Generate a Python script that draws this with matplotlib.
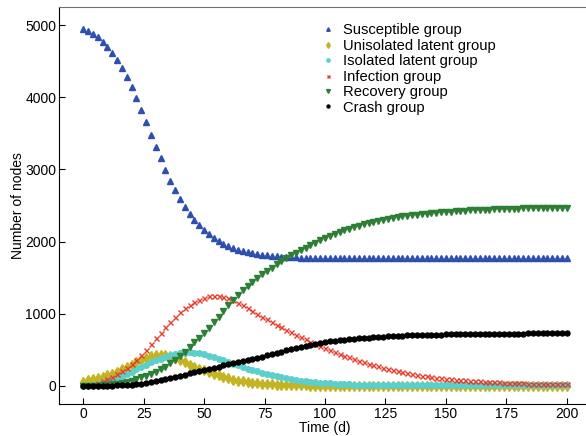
import numpy as np
import matplotlib
matplotlib.use("Agg")
import matplotlib.pyplot as plt

plt.rcParams['font.family'] = ['Liberation Sans', 'DejaVu Sans']

# time in days, one sample every 2 days
days = list(range(0, 201, 2))

susceptible = [
    4950, 4920, 4882, 4832, 4772, 4702, 4619, 4519, 4409, 4280,
    4138, 3987, 3826, 3657, 3483, 3313, 3153, 2990, 2846, 2708,
    2585, 2479, 2383, 2296, 2223, 2156, 2101, 2053, 2010, 1970,
    1938, 1910, 1887, 1868, 1852, 1838, 1827, 1817, 1809, 1802,
    1796, 1791, 1787, 1784, 1781, 1779, 1777, 1775, 1774, 1773,
    1772, 1772, 1772, 1772, 1772, 1772, 1771, 1771, 1771, 1771,
    1771, 1771, 1771, 1771, 1771, 1771, 1771, 1771, 1771, 1771,
    1771, 1771, 1771, 1771, 1771, 1771, 1771, 1771, 1771, 1771,
    1771, 1771, 1771, 1771, 1771, 1771, 1771, 1771, 1771, 1771,
    1771, 1771, 1771, 1771, 1771, 1771, 1771, 1771, 1771, 1771,
    1771,
]
unisolated_latent = [
    58, 76, 92, 107, 125, 147, 170, 197, 228, 261,
    296, 334, 366, 394, 414, 426, 430, 426, 413, 392,
    362, 330, 297, 266, 240, 215, 190, 166, 145, 124,
    106, 89, 75, 62, 52, 43, 36, 30, 25, 21,
    18, 15, 13, 11, 9, 8, 7, 6, 5, 4,
    4, 3, 3, 3, 3, 2, 2, 2, 2, 2,
    2, 2, 2, 2, 2, 2, 2, 2, 1, 1,
    1, 1, 1, 1, 1, 1, 1, 1, 1, 1,
    1, 1, 1, 1, 1, 1, 1, 1, 1, 1,
    1, 1, 1, 1, 1, 1, 1, 1, 1, 1,
    1,
]
isolated_latent = [
    2, 9, 18, 28, 45, 64, 87, 111, 140, 169,
    198, 229, 261, 293, 325, 355, 380, 403, 425, 443,
    456, 463, 464, 460, 452, 438, 420, 398, 377, 354,
    331, 308, 285, 262, 240, 220, 201, 183, 166, 150,
    135, 121, 108, 96, 85, 75, 66, 58, 51, 45,
    40, 35, 31, 28, 25, 22, 20, 18, 17, 16,
    15, 14, 13, 13, 12, 12, 12, 11, 11, 11,
    11, 11, 10, 10, 10, 10, 10, 10, 10, 10,
    10, 10, 10, 10, 10, 10, 10, 10, 10, 10,
    10, 10, 10, 10, 10, 10, 10, 10, 10, 10,
    10,
]
infection = [
    10, 18, 30, 45, 64, 90, 125, 165, 210, 255,
    300, 362, 425, 497, 575, 658, 740, 815, 892, 960,
    1025, 1080, 1127, 1168, 1196, 1222, 1242, 1250, 1248, 1237,
    1215, 1184, 1152, 1116, 1079, 1040, 1002, 962, 922, 882,
    845, 810, 776, 742, 708, 676, 645, 614, 585, 556,
    528, 500, 472, 446, 420, 396, 372, 349, 328, 307,
    288, 270, 252, 236, 220, 205, 191, 178, 166, 155,
    144, 134, 125, 116, 108, 100, 93, 87, 81, 76,
    71, 66, 62, 58, 54, 51, 48, 45, 42, 40,
    37, 35, 33, 31, 30, 28, 27, 25, 24, 23,
    22,
]
recovery = [
    0, 1, 3, 6, 10, 15, 22, 30, 42, 56,
    74, 96, 119, 140, 166, 194, 228, 266, 312, 365,
    420, 477, 540, 604, 664, 733, 808, 885, 960, 1040,
    1115, 1190, 1258, 1325, 1388, 1443, 1495, 1548, 1595, 1640,
    1690, 1733, 1773, 1812, 1848, 1883, 1918, 1952, 1985, 2017,
    2047, 2076, 2104, 2130, 2155, 2178, 2200, 2220, 2239, 2257,
    2274, 2289, 2303, 2316, 2328, 2339, 2349, 2358, 2367, 2375,
    2382, 2389, 2395, 2401, 2406, 2411, 2416, 2420, 2424, 2428,
    2432, 2435, 2438, 2441, 2444, 2447, 2449, 2451, 2453, 2455,
    2457, 2459, 2461, 2462, 2464, 2465, 2467, 2468, 2469, 2470,
    2471,
]
crash = [
    0, 0, 1, 2, 3, 4, 6, 8, 11, 15,
    20, 26, 34, 43, 53, 65, 78, 93, 108, 124,
    140, 157, 174, 190, 207, 223, 239, 254, 269, 284,
    298, 313, 328, 343, 358, 374, 390, 407, 424, 441,
    458, 476, 493, 510, 526, 541, 556, 570, 583, 595,
    606, 616, 625, 633, 641, 648, 654, 660, 665, 670,
    675, 679, 683, 687, 690, 693, 696, 699, 701, 703,
    705, 707, 709, 711, 712, 714, 715, 716, 717, 718,
    719, 720, 721, 722, 722, 723, 724, 724, 725, 725,
    726, 726, 727, 727, 727, 728, 728, 728, 729, 729,
    729,
]

fig = plt.figure(figsize=(5.86, 4.36), dpi=100)
ax = fig.add_axes([59 / 586, 32 / 436, 532 / 586, 397 / 436])

ax.plot(days, susceptible, ls='none', marker='^', ms=4.2, color='#2f4fb0',
        label='Susceptible group')
ax.plot(days, unisolated_latent, ls='none', marker='d', ms=5.0, color='#c4b424',
        label='Unisolated latent group')
ax.plot(days, isolated_latent, ls='none', marker='o', ms=4.0, color='#5ccfcc',
        label='Isolated latent group')
ax.plot(days, infection, ls='none', marker='x', ms=3.6, mew=1.0, color='#e53a2a',
        label='Infection group')
ax.plot(days, recovery, ls='none', marker='v', ms=4.6, color='#2d7f35',
        label='Recovery group')
ax.plot(days, crash, ls='none', marker='o', ms=3.6, color='black',
        label='Crash group')

ax.set_xlim(-10, 210)
ax.set_ylim(-250, 5250)
ax.set_xticks([0, 25, 50, 75, 100, 125, 150, 175, 200])
ax.set_yticks([0, 1000, 2000, 3000, 4000, 5000])
ax.tick_params(direction='in', length=4, width=0.8, labelsize=10, pad=2)
ax.tick_params(top=False, right=False)
ax.spines['right'].set_visible(False)
ax.spines['top'].set_color('#707070')

ax.set_xlabel('Time (d)', fontsize=10, labelpad=0)
ax.set_ylabel('Number of nodes', fontsize=10, labelpad=0)

leg = ax.legend(loc='upper left', bbox_to_anchor=(0.473, 0.985), frameon=False,
                fontsize=10.6, markerscale=0.6, handlelength=1.0,
                handletextpad=0.5, labelspacing=0.1, borderpad=0.2)

fig.savefig('out.png', dpi=100)
